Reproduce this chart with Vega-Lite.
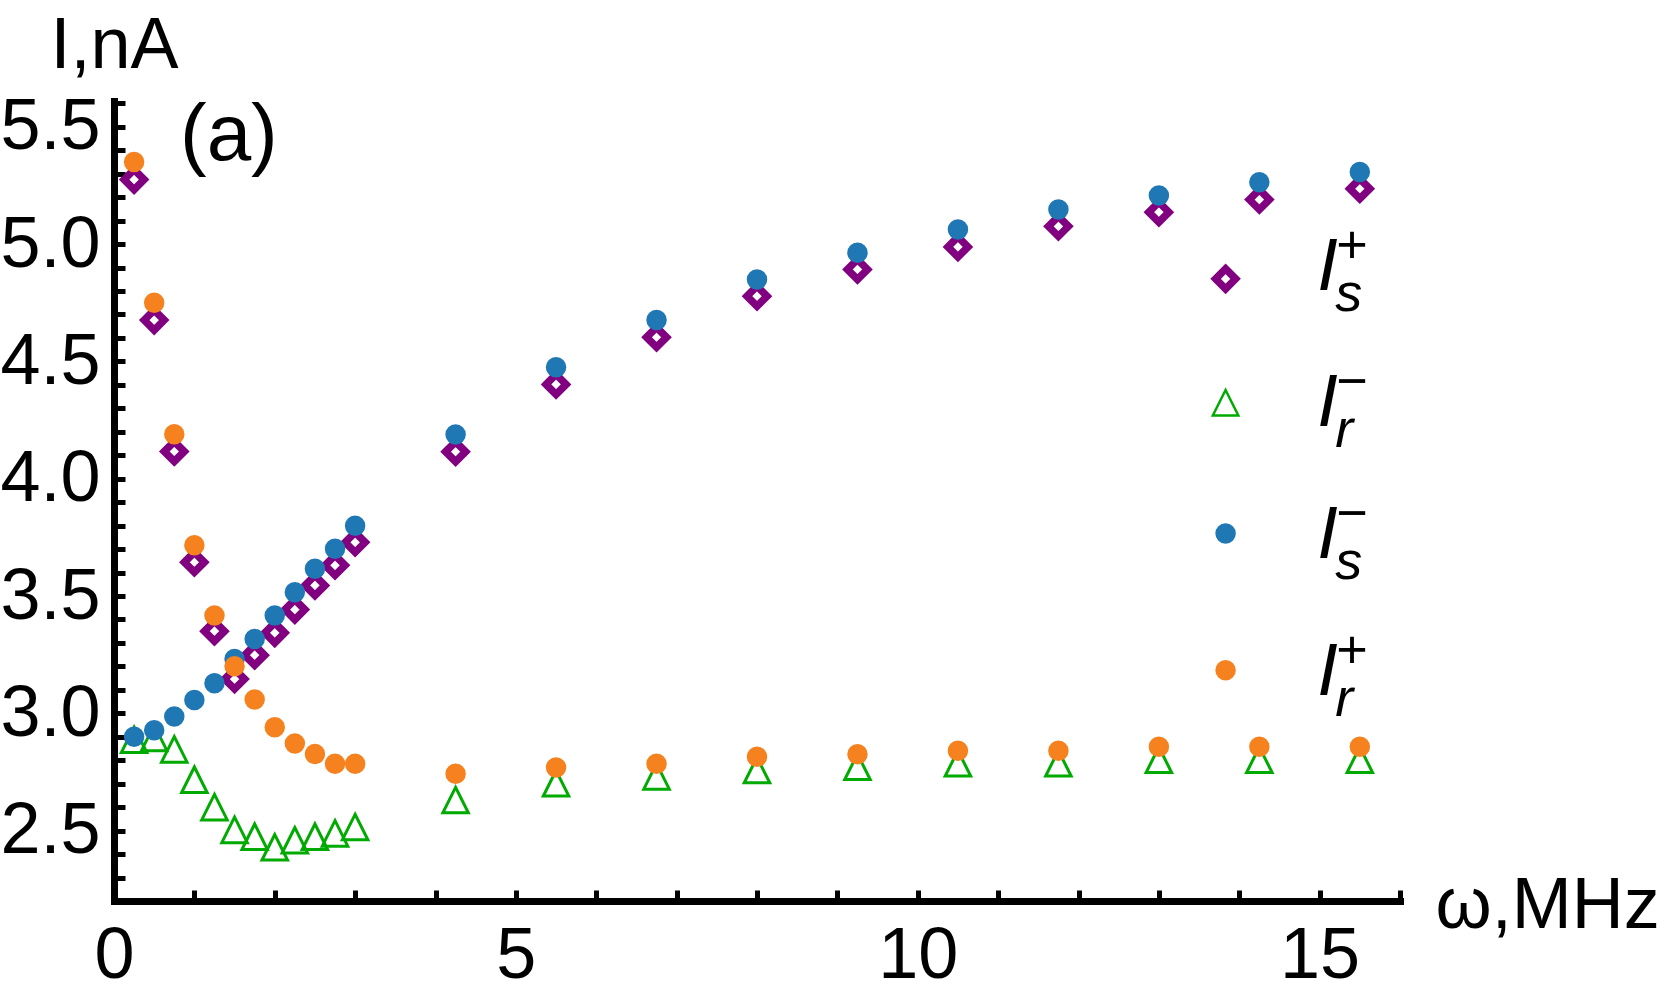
{
  "$schema": "https://vega.github.io/schema/vega-lite/v6.json",
  "width": 1286,
  "height": 800,
  "autosize": "none",
  "padding": {"left": 114, "top": 101, "right": 261, "bottom": 96},
  "background": "white",
  "config": {"view": {"stroke": null}, "font": "Liberation Sans"},
  "datasets": {
    "pts": [
      {"s": "Is+", "w": 0.25, "I": 5.275}, {"s": "Is+", "w": 0.5, "I": 4.676}, {"s": "Is+", "w": 0.75, "I": 4.116},
      {"s": "Is+", "w": 1.0, "I": 3.644}, {"s": "Is+", "w": 1.25, "I": 3.350}, {"s": "Is+", "w": 1.5, "I": 3.146},
      {"s": "Is+", "w": 1.75, "I": 3.248}, {"s": "Is+", "w": 2.0, "I": 3.343}, {"s": "Is+", "w": 2.25, "I": 3.442},
      {"s": "Is+", "w": 2.5, "I": 3.545}, {"s": "Is+", "w": 2.75, "I": 3.631}, {"s": "Is+", "w": 3.0, "I": 3.729},
      {"s": "Is+", "w": 4.25, "I": 4.115}, {"s": "Is+", "w": 5.5, "I": 4.402}, {"s": "Is+", "w": 6.75, "I": 4.603},
      {"s": "Is+", "w": 8.0, "I": 4.778}, {"s": "Is+", "w": 9.25, "I": 4.892}, {"s": "Is+", "w": 10.5, "I": 4.988},
      {"s": "Is+", "w": 11.75, "I": 5.076}, {"s": "Is+", "w": 13.0, "I": 5.136}, {"s": "Is+", "w": 14.25, "I": 5.190},
      {"s": "Is+", "w": 15.5, "I": 5.236},
      {"s": "Ir-", "w": 0.25, "I": 2.887}, {"s": "Ir-", "w": 0.5, "I": 2.895}, {"s": "Ir-", "w": 0.75, "I": 2.846},
      {"s": "Ir-", "w": 1.0, "I": 2.717}, {"s": "Ir-", "w": 1.25, "I": 2.600}, {"s": "Ir-", "w": 1.5, "I": 2.503},
      {"s": "Ir-", "w": 1.75, "I": 2.474}, {"s": "Ir-", "w": 2.0, "I": 2.429}, {"s": "Ir-", "w": 2.25, "I": 2.459},
      {"s": "Ir-", "w": 2.5, "I": 2.474}, {"s": "Ir-", "w": 2.75, "I": 2.488}, {"s": "Ir-", "w": 3.0, "I": 2.515},
      {"s": "Ir-", "w": 4.25, "I": 2.630}, {"s": "Ir-", "w": 5.5, "I": 2.702}, {"s": "Ir-", "w": 6.75, "I": 2.731},
      {"s": "Ir-", "w": 8.0, "I": 2.758}, {"s": "Ir-", "w": 9.25, "I": 2.772}, {"s": "Ir-", "w": 10.5, "I": 2.787},
      {"s": "Ir-", "w": 11.75, "I": 2.787}, {"s": "Ir-", "w": 13.0, "I": 2.802}, {"s": "Ir-", "w": 14.25, "I": 2.802},
      {"s": "Ir-", "w": 15.5, "I": 2.802},
      {"s": "Is-", "w": 0.25, "I": 2.900}, {"s": "Is-", "w": 0.5, "I": 2.928}, {"s": "Is-", "w": 0.75, "I": 2.986},
      {"s": "Is-", "w": 1.0, "I": 3.057}, {"s": "Is-", "w": 1.25, "I": 3.128}, {"s": "Is-", "w": 1.5, "I": 3.232},
      {"s": "Is-", "w": 1.75, "I": 3.317}, {"s": "Is-", "w": 2.0, "I": 3.417}, {"s": "Is-", "w": 2.25, "I": 3.516},
      {"s": "Is-", "w": 2.5, "I": 3.616}, {"s": "Is-", "w": 2.75, "I": 3.701}, {"s": "Is-", "w": 3.0, "I": 3.800},
      {"s": "Is-", "w": 4.25, "I": 4.188}, {"s": "Is-", "w": 5.5, "I": 4.475}, {"s": "Is-", "w": 6.75, "I": 4.677},
      {"s": "Is-", "w": 8.0, "I": 4.849}, {"s": "Is-", "w": 9.25, "I": 4.963}, {"s": "Is-", "w": 10.5, "I": 5.062},
      {"s": "Is-", "w": 11.75, "I": 5.147}, {"s": "Is-", "w": 13.0, "I": 5.207}, {"s": "Is-", "w": 14.25, "I": 5.264},
      {"s": "Is-", "w": 15.5, "I": 5.307},
      {"s": "Ir+", "w": 0.25, "I": 5.35}, {"s": "Ir+", "w": 0.5, "I": 4.75}, {"s": "Ir+", "w": 0.75, "I": 4.19},
      {"s": "Ir+", "w": 1.0, "I": 3.716}, {"s": "Ir+", "w": 1.25, "I": 3.417}, {"s": "Ir+", "w": 1.5, "I": 3.201},
      {"s": "Ir+", "w": 1.75, "I": 3.059}, {"s": "Ir+", "w": 2.0, "I": 2.941}, {"s": "Ir+", "w": 2.25, "I": 2.871},
      {"s": "Ir+", "w": 2.5, "I": 2.827}, {"s": "Ir+", "w": 2.75, "I": 2.785}, {"s": "Ir+", "w": 3.0, "I": 2.785},
      {"s": "Ir+", "w": 4.25, "I": 2.742}, {"s": "Ir+", "w": 5.5, "I": 2.769}, {"s": "Ir+", "w": 6.75, "I": 2.785},
      {"s": "Ir+", "w": 8.0, "I": 2.815}, {"s": "Ir+", "w": 9.25, "I": 2.826}, {"s": "Ir+", "w": 10.5, "I": 2.840},
      {"s": "Ir+", "w": 11.75, "I": 2.840}, {"s": "Ir+", "w": 13.0, "I": 2.857}, {"s": "Ir+", "w": 14.25, "I": 2.857},
      {"s": "Ir+", "w": 15.5, "I": 2.857}
    ],
    "key": [
      {"s": "Is+", "w": 13.83, "I": 4.852},
      {"s": "Ir-", "w": 13.83, "I": 4.324},
      {"s": "Is-", "w": 13.83, "I": 3.766},
      {"s": "Ir+", "w": 13.83, "I": 3.184}
    ],
    "notes": [
      {"k": "panel", "t": "(a)", "w": 0.821, "I": 5.36},
      {"k": "main", "t": "I", "w": 14.97, "I": 4.8035}, {"k": "sup", "t": "+", "w": 14.97, "I": 4.8035}, {"k": "sub", "t": "s", "w": 14.97, "I": 4.8035},
      {"k": "main", "t": "I", "w": 14.97, "I": 4.2238}, {"k": "sup", "t": "−", "w": 14.97, "I": 4.2238}, {"k": "sub", "t": "r", "w": 14.97, "I": 4.2238},
      {"k": "main", "t": "I", "w": 14.97, "I": 3.664}, {"k": "sup", "t": "−", "w": 14.97, "I": 3.664}, {"k": "sub", "t": "s", "w": 14.97, "I": 3.664},
      {"k": "main", "t": "I", "w": 14.97, "I": 3.080}, {"k": "sup", "t": "+", "w": 14.97, "I": 3.080}, {"k": "sub", "t": "r", "w": 14.97, "I": 3.080}
    ]
  },
  "encoding": {
    "x": {
      "field": "w", "type": "quantitative",
      "scale": {"domain": [0, 16], "nice": false, "zero": false},
      "axis": {
        "title": "ω,MHz",
        "values": [0, 1, 2, 3, 4, 5, 6, 7, 8, 9, 10, 11, 12, 13, 14, 15, 16],
        "labelExpr": "datum.value % 5 === 0 ? format(datum.value, 'd') : ''",
        "tickSize": -11,
        "tickWidth": 5, "tickColor": "black",
        "domainColor": "black", "domainWidth": 7, "domainCap": "square",
        "labelFont": "Liberation Sans", "labelFontSize": 72, "labelColor": "black",
        "labelPadding": 30, "labelOverlap": false, "labelFlush": false, "labelBound": false,
        "grid": false,
        "titleFont": "Liberation Sans", "titleFontSize": 72, "titleFontWeight": "normal", "titleColor": "black",
        "titleX": 1321, "titleY": 26, "titleAlign": "left", "titleBaseline": "alphabetic", "titleAngle": 0,
        "encode": {"ticks": {"update": {"y2": {"signal": "datum.value % 5 === 0 ? -15 : -9"}}}}
      }
    },
    "y": {
      "field": "I", "type": "quantitative",
      "scale": {"domain": [2.2, 5.61], "nice": false, "zero": false},
      "axis": {
        "title": "I,nA",
        "values": [2.2, 2.3, 2.4, 2.5, 2.6, 2.7, 2.8, 2.9, 3.0, 3.1, 3.2, 3.3, 3.4, 3.5, 3.6, 3.7, 3.8, 3.9, 4.0, 4.1, 4.2, 4.3, 4.4, 4.5, 4.6, 4.7, 4.8, 4.9, 5.0, 5.1, 5.2, 5.3, 5.4, 5.5, 5.6],
        "labelExpr": "abs(datum.value * 2 - round(datum.value * 2)) < 0.001 ? format(datum.value, '.1f') : ''",
        "tickSize": -11,
        "tickWidth": 5, "tickColor": "black",
        "domainColor": "black", "domainWidth": 7, "domainCap": "square",
        "labelFont": "Liberation Sans", "labelFontSize": 72, "labelColor": "black",
        "labelPadding": 25, "labelOverlap": false, "labelFlush": false, "labelBound": false,
        "grid": false,
        "titleFont": "Liberation Sans", "titleFontSize": 72, "titleFontWeight": "normal", "titleColor": "black",
        "titleX": 0, "titleY": -34, "titleAlign": "center", "titleBaseline": "alphabetic", "titleAngle": 0,
        "encode": {"ticks": {"update": {"x2": {"signal": "abs(datum.value * 2 - round(datum.value * 2)) < 0.001 ? 15 : 9"}}}}
      }
    }
  },
  "layer": [
    {
      "data": {"name": "pts"},
      "transform": [{"filter": "datum.s == 'Is+'"}],
      "mark": {"type": "point", "shape": "diamond", "filled": false, "stroke": "#800080", "strokeWidth": 7.5, "size": 400, "opacity": 1, "strokeJoin": "miter", "strokeMiterLimit": 10}
    },
    {
      "data": {"name": "pts"},
      "transform": [{"filter": "datum.s == 'Ir-'"}],
      "mark": {"type": "point", "shape": "M0,-1L-1,1L1,1Z", "filled": false, "stroke": "#00AA00", "strokeWidth": 3, "size": 650, "opacity": 1, "strokeJoin": "miter", "strokeMiterLimit": 10}
    },
    {
      "data": {"name": "pts"},
      "transform": [{"filter": "datum.s == 'Is-'"}],
      "mark": {"type": "point", "shape": "circle", "filled": true, "fill": "#1F77B4", "size": 420, "opacity": 1, "strokeWidth": 0}
    },
    {
      "data": {"name": "pts"},
      "transform": [{"filter": "datum.s == 'Ir+'"}],
      "mark": {"type": "point", "shape": "circle", "filled": true, "fill": "#F5821F", "size": 420, "opacity": 1, "strokeWidth": 0}
    },
    {
      "data": {"name": "key"},
      "transform": [{"filter": "datum.s == 'Is+'"}],
      "mark": {"type": "point", "shape": "diamond", "filled": false, "stroke": "#800080", "strokeWidth": 7.5, "size": 400, "opacity": 1, "strokeJoin": "miter", "strokeMiterLimit": 10}
    },
    {
      "data": {"name": "key"},
      "transform": [{"filter": "datum.s == 'Ir-'"}],
      "mark": {"type": "point", "shape": "M0,-1L-1,1L1,1Z", "filled": false, "stroke": "#00AA00", "strokeWidth": 2.5, "size": 650, "opacity": 1, "strokeJoin": "miter", "strokeMiterLimit": 10}
    },
    {
      "data": {"name": "key"},
      "transform": [{"filter": "datum.s == 'Is-'"}],
      "mark": {"type": "point", "shape": "circle", "filled": true, "fill": "#1F77B4", "size": 420, "opacity": 1, "strokeWidth": 0}
    },
    {
      "data": {"name": "key"},
      "transform": [{"filter": "datum.s == 'Ir+'"}],
      "mark": {"type": "point", "shape": "circle", "filled": true, "fill": "#F5821F", "size": 420, "opacity": 1, "strokeWidth": 0}
    },
    {
      "data": {"name": "notes"},
      "transform": [{"filter": "datum.k == 'panel'"}],
      "mark": {"type": "text", "font": "Liberation Sans", "fontSize": 80, "align": "left", "baseline": "alphabetic", "color": "black"},
      "encoding": {"text": {"field": "t"}}
    },
    {
      "data": {"name": "notes"},
      "transform": [{"filter": "datum.k == 'main'"}],
      "mark": {"type": "text", "font": "Liberation Sans", "fontSize": 74, "fontStyle": "italic", "align": "left", "baseline": "alphabetic", "color": "black"},
      "encoding": {"text": {"field": "t"}}
    },
    {
      "data": {"name": "notes"},
      "transform": [{"filter": "datum.k == 'sup'"}],
      "mark": {"type": "text", "font": "Liberation Sans", "fontSize": 54, "align": "left", "baseline": "alphabetic", "color": "black", "dx": 19, "dy": -27},
      "encoding": {"text": {"field": "t"}}
    },
    {
      "data": {"name": "notes"},
      "transform": [{"filter": "datum.k == 'sub'"}],
      "mark": {"type": "text", "font": "Liberation Sans", "fontSize": 54, "fontStyle": "italic", "align": "left", "baseline": "alphabetic", "color": "black", "dx": 18, "dy": 21},
      "encoding": {"text": {"field": "t"}}
    }
  ]
}
